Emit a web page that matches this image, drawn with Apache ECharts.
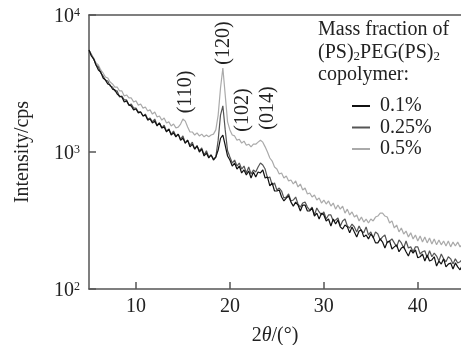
<!DOCTYPE html>
<html>
<head>
<meta charset="utf-8">
<script src="https://cdn.jsdelivr.net/npm/echarts@6/dist/echarts.min.js"></script>
<style>html,body{margin:0;padding:0;background:#fff}#c{width:461px;height:345px}</style>
</head>
<body>
<div id="c"></div>
<script>
// 2θ angles (degrees)
var angles = [5,5.25,5.5,5.75,6,6.25,6.5,6.75,7,7.25,7.5,7.75,8,8.25,8.5,8.75,9,9.25,9.5,9.75,
10,10.25,10.5,10.75,11,11.25,11.5,11.75,12,12.25,12.5,12.75,13,13.25,13.5,13.75,14,14.25,14.5,14.75,
15,15.25,15.5,15.75,16,16.25,16.5,16.75,17,17.25,17.5,17.75,18,18.25,18.5,18.75,19,19.25,19.5,19.75,
20,20.25,20.5,20.75,21,21.25,21.5,21.75,22,22.25,22.5,22.75,23,23.25,23.5,23.75,24,24.25,24.5,24.75,
25,25.25,25.5,25.75,26,26.25,26.5,26.75,27,27.25,27.5,27.75,28,28.25,28.5,28.75,29,29.25,29.5,29.75,
30,30.25,30.5,30.75,31,31.25,31.5,31.75,32,32.25,32.5,32.75,33,33.25,33.5,33.75,34,34.25,34.5,34.75,
35,35.25,35.5,35.75,36,36.25,36.5,36.75,37,37.25,37.5,37.75,38,38.25,38.5,38.75,39,39.25,39.5,39.75,
40,40.25,40.5,40.75,41,41.25,41.5,41.75,42,42.25,42.5,42.75,43,43.25,43.5,43.75,44,44.25,44.5,44.75,45];

// Intensity (cps), mass fraction 0.1%
var s01 = [5550,5020,4770,4320,3970,3840,3470,3350,3140,3080,2880,2840,2650,2560,2520,2320,2360,2200,2170,2030,
2060,1930,1960,1830,1860,1710,1740,1630,1680,1550,1630,1500,1520,1400,1470,1330,1380,1290,1350,1220,
1260,1160,1220,1090,1140,1050,1110,1000,1050,935,983,904,951,874,919,1034,1260,1330,1120,935,
874,790,831,751,790,703,739,679,727,646,715,657,715,703,739,646,657,565,594,519,
519,528,469,439,461,477,431,403,431,410,371,410,410,371,371,390,341,358,324,358,
347,314,324,288,324,298,319,284,274,293,284,257,284,261,240,265,270,240,248,232,
252,240,217,217,232,220,199,220,224,196,203,210,187,199,203,187,174,193,183,193,
169,172,180,160,177,160,163,172,147,160,152,166,145,152,155,140,155,145,138,150,142];

// Intensity (cps), mass fraction 0.25%
var s025 = [5550,5110,4770,4320,4170,3770,3590,3350,3300,3030,2980,2790,2790,2520,2560,2400,2400,2200,2240,2090,
2090,1960,1960,1830,1890,1740,1770,1660,1740,1570,1630,1500,1570,1420,1470,1350,1420,1310,1350,1240,
1310,1160,1220,1120,1180,1050,1110,1020,1070,951,1020,919,951,889,919,1220,1860,2170,1450,1020,
919,831,874,790,831,751,790,703,777,691,739,715,777,831,803,751,646,657,575,594,
528,546,519,461,469,494,439,446,469,417,396,424,431,396,377,396,347,390,365,347,
365,324,347,347,314,319,330,288,314,324,288,279,298,284,261,288,265,257,284,248,
261,236,261,252,228,240,248,217,224,232,217,203,228,217,199,224,199,203,187,203,
203,180,187,190,169,190,172,183,174,160,180,166,158,172,166,152,166,155,158,166,150];

// Intensity (cps), mass fraction 0.5%
var s05 = [5550,5190,4850,4460,4320,3970,3770,3530,3470,3240,3140,2980,2980,2790,2790,2560,2610,2480,2480,2320,
2360,2200,2240,2090,2130,1990,2030,1890,1960,1800,1830,1710,1770,1630,1660,1550,1600,1500,1520,1600,
1740,1680,1520,1400,1400,1330,1380,1310,1350,1290,1330,1290,1330,1350,1450,1860,2930,4100,2610,1660,
1450,1330,1310,1220,1240,1160,1200,1120,1140,1090,1140,1140,1180,1220,1180,1090,1000,904,859,777,
751,691,703,646,668,615,625,584,615,556,584,528,546,494,502,469,485,446,461,424,
446,417,439,403,424,383,410,383,403,358,383,347,365,335,347,314,335,308,324,303,
324,314,335,341,358,358,341,335,303,314,279,293,261,279,252,265,240,257,232,248,
224,244,220,240,217,236,213,232,210,228,210,224,206,224,203,220,206,220,203,213,206];

var seriesNames = ['0.1%','0.25%','0.5%'];
var xTicks = [10,20,30,40];
var yTickValues = [100,1000,10000];
var yTickExps = ['2','3','4'];
var peakLabels = ['(110)','(120)','(102)','(014)'];
var legendTitle = ['Mass fraction of','(PS){s|2}PEG(PS){s|2}','copolymer:'];

var FONT = 'Liberation Serif';
var chart = echarts.init(document.getElementById('c'), null, {renderer:'canvas'});

function pairs(v){ return angles.map(function(a,i){ return [a, v[i]]; }); }

var axisColor = '#555';
var textColor = '#222';

var peakPos = [[186,92],[224,43],[243,110],[268,108]];
var graphics = [];
peakLabels.forEach(function(t,i){
  graphics.push({type:'text', x:peakPos[i][0], y:peakPos[i][1], rotation:Math.PI/2,
    style:{text:t, font:'20px "'+FONT+'"', fill:textColor, textAlign:'center', textVerticalAlign:'middle'}});
});
var titleY = [30,53,75];
legendTitle.forEach(function(t,i){
  graphics.push({type:'text', x:318, y:titleY[i],
    style:{text:t, fontFamily:FONT, fontSize:20, fill:textColor, textAlign:'left', textVerticalAlign:'middle',
      rich:{s:{fontFamily:FONT, fontSize:13, verticalAlign:'bottom', lineHeight:12, fill:textColor, padding:[6,0,0,0]}}}});
});

var option = {
  animation:false,
  backgroundColor:'#fff',
  grid:{left:89, right:0, top:15, bottom:56, containLabel:false, outerBoundsMode:'none'},
  legend:{
    data:seriesNames, orient:'vertical', left:347, top:91, icon:'rect', itemWidth:18, itemHeight:2,
    itemGap:1.5, textStyle:{fontFamily:FONT, fontSize:20, color:textColor, lineHeight:20, padding:[0,0,0,5]}
  },
  xAxis:[{
    type:'value', min:5, max:44.6,
    name:'2{i|θ}/(°)', nameLocation:'middle', nameGap:37,
    nameTextStyle:{fontFamily:FONT, fontSize:20, color:textColor, rich:{i:{fontFamily:FONT, fontSize:20, fontStyle:'italic', color:textColor}}},
    axisLine:{lineStyle:{color:axisColor, width:1.5}},
    axisTick:{inside:true, length:7, customValues:xTicks, lineStyle:{color:axisColor, width:1.5}},
    axisLabel:{customValues:xTicks, fontFamily:FONT, fontSize:20, color:textColor, margin:8},
    splitLine:{show:false}
  },{
    type:'value', position:'top', min:5, max:44.6,
    axisLine:{lineStyle:{color:axisColor, width:1.5}},
    axisTick:{show:false}, axisLabel:{show:false}, splitLine:{show:false}
  }],
  yAxis:{
    type:'log', logBase:10, min:100, max:10000,
    name:'Intensity/cps', nameLocation:'middle', nameGap:56,
    nameTextStyle:{fontFamily:FONT, fontSize:20, color:textColor},
    axisLine:{lineStyle:{color:axisColor, width:1.5}},
    axisTick:{inside:true, length:7, lineStyle:{color:axisColor, width:1.5}},
    axisLabel:{margin:9, padding:[3,0,0,0], formatter:function(v){
        var i = yTickValues.indexOf(Math.round(v));
        return i<0 ? '' : '{b|10}{s|'+yTickExps[i]+'}';
      },
      rich:{b:{fontFamily:FONT, fontSize:20, color:textColor, lineHeight:20},
            s:{fontFamily:FONT, fontSize:12, color:textColor, verticalAlign:'top', lineHeight:12}}},
    splitLine:{show:false}
  },
  graphic:graphics,
  series:[
    {name:'0.5%', type:'line', data:pairs(s05), showSymbol:false, symbol:'none', lineStyle:{color:'#aaaaaa', width:1.2}, itemStyle:{color:'#aaaaaa'}, clip:true},
    {name:'0.25%', type:'line', data:pairs(s025), showSymbol:false, symbol:'none', lineStyle:{color:'#555555', width:1.2}, itemStyle:{color:'#555555'}, clip:true},
    {name:'0.1%', type:'line', data:pairs(s01), showSymbol:false, symbol:'none', lineStyle:{color:'#111111', width:1.2}, itemStyle:{color:'#111111'}, clip:true}
  ]
};
chart.setOption(option);
</script>
</body>
</html>
